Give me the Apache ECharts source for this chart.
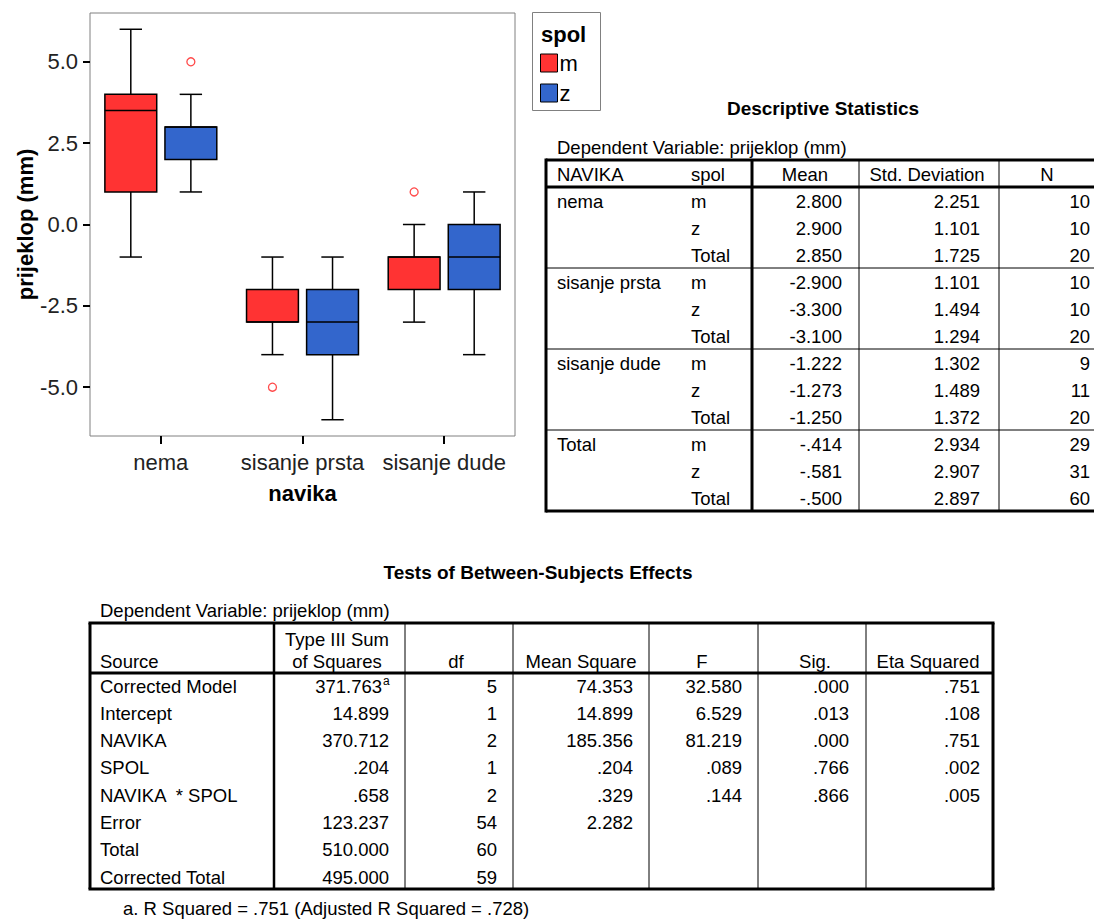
<!DOCTYPE html>
<html><head><meta charset="utf-8">
<script src="https://cdn.jsdelivr.net/npm/echarts@6/dist/echarts.min.js"></script>
<style>html,body{margin:0;padding:0;background:#fff}#chart{width:1094px;height:919px}</style>
</head><body><div id="chart"></div>
<script>
// ---------- boxplot data ----------
const categories = ['nema', 'sisanje prsta', 'sisanje dude'];
const sexNames = ['m', 'z'];
// [low whisker, Q1, median, Q3, high whisker]
const boxM = [[-1, 1, 3.5, 4, 6], [-4, -3, -3, -2, -1], [-3, -2, -1, -1, 0]];
const boxZ = [[1, 2, 3, 3, 4], [-6, -4, -3, -2, -1], [-4, -2, -1, 0, 1]];
// [category index, value]
const outM = [[1, -5], [2, 1]];
const outZ = [[0, 5]];
const yTicks = [-5, -2.5, 0, 2.5, 5];
const xAxisName = 'navika';
const yAxisName = 'prijeklop (mm)';
const legendTitle = 'spol';

// ---------- Descriptive Statistics ----------
const descTitle = 'Descriptive Statistics';
const descSubtitle = 'Dependent Variable: prijeklop (mm)';
const descHeaders = ['NAVIKA', 'spol', 'Mean', 'Std. Deviation', 'N'];
const descGroups = ['nema', 'sisanje prsta', 'sisanje dude', 'Total'];
const descSpol = ['m', 'z', 'Total'];
const descMean = ['2.800', '2.900', '2.850', '-2.900', '-3.300', '-3.100', '-1.222', '-1.273', '-1.250', '-.414', '-.581', '-.500'];
const descStd = ['2.251', '1.101', '1.725', '1.101', '1.494', '1.294', '1.302', '1.489', '1.372', '2.934', '2.907', '2.897'];
const descN = ['10', '10', '20', '10', '10', '20', '9', '11', '20', '29', '31', '60'];

// ---------- Tests of Between-Subjects Effects ----------
const testTitle = 'Tests of Between-Subjects Effects';
const testSubtitle = 'Dependent Variable: prijeklop (mm)';
const testHeaderTop = ['', 'Type III Sum', '', '', '', '', ''];
const testHeaders = ['Source', 'of Squares', 'df', 'Mean Square', 'F', 'Sig.', 'Eta Squared'];
const testSource = ['Corrected Model', 'Intercept', 'NAVIKA', 'SPOL', 'NAVIKA  * SPOL', 'Error', 'Total', 'Corrected Total'];
const testSS = ['371.763', '14.899', '370.712', '.204', '.658', '123.237', '510.000', '495.000'];
const testSSNote = ['a', '', '', '', '', '', '', ''];
const testDf = ['5', '1', '2', '1', '2', '54', '60', '59'];
const testMS = ['74.353', '14.899', '185.356', '.204', '.329', '2.282', '', ''];
const testF = ['32.580', '6.529', '81.219', '.089', '.144', '', '', ''];
const testSig = ['.000', '.013', '.000', '.766', '.866', '', '', ''];
const testEta = ['.751', '.108', '.751', '.002', '.005', '', '', ''];
const testFootnote = 'a. R Squared = .751 (Adjusted R Squared = .728)';

// ---------- styling ----------
const FF = '"Liberation Sans", Arial, sans-serif';
const RED = '#ff3333', BLUE = '#3366cc', OUT = '#ff4a4a';
const TFONT = 'normal 18.5px ' + FF;

const chart = echarts.init(document.getElementById('chart'), null, {renderer: 'svg'});

function boxRenderer(offFrac) {
  return function (params, api) {
    const cat = api.value(0);
    const lo = api.value(1), q1 = api.value(2), med = api.value(3), q3 = api.value(4), hi = api.value(5);
    const band = api.size([1, 0])[0];
    const cx = api.coord([cat, 0])[0] + offFrac * band;
    const y = v => api.coord([cat, v])[1];
    const bw = band * 0.366, cw = band * 0.158;
    const ls = {stroke: '#000', lineWidth: 1.5};
    const color = api.visual('color');
    return {
      type: 'group',
      children: [
        {type: 'line', shape: {x1: cx, y1: y(q3), x2: cx, y2: y(hi)}, style: ls},
        {type: 'line', shape: {x1: cx, y1: y(q1), x2: cx, y2: y(lo)}, style: ls},
        {type: 'line', shape: {x1: cx - cw / 2, y1: y(hi), x2: cx + cw / 2, y2: y(hi)}, style: ls},
        {type: 'line', shape: {x1: cx - cw / 2, y1: y(lo), x2: cx + cw / 2, y2: y(lo)}, style: ls},
        {type: 'rect', shape: {x: cx - bw / 2, y: y(q3), width: bw, height: y(q1) - y(q3)},
          style: {fill: color, stroke: '#000', lineWidth: 1.5}},
        {type: 'line', shape: {x1: cx - bw / 2, y1: y(med), x2: cx + bw / 2, y2: y(med)}, style: ls}
      ]
    };
  };
}
function outRenderer(offFrac) {
  return function (params, api) {
    const cat = api.value(0);
    const band = api.size([1, 0])[0];
    const p = api.coord([cat, api.value(1)]);
    return {type: 'circle', shape: {cx: p[0] + offFrac * band, cy: p[1], r: 4},
      style: {fill: 'none', stroke: OUT, lineWidth: 1.3}};
  };
}

// ---------- graphic helpers ----------
const G = [];
function txt(x, y, s, align, font, extra) {
  G.push(Object.assign({type: 'text', x: x, y: y, silent: true,
    style: {text: s, fill: '#000', font: font || TFONT, textAlign: align || 'left', textVerticalAlign: 'middle'}}, extra || {}));
}
function ln(x1, y1, x2, y2, w, c) {
  G.push({type: 'line', silent: true, shape: {x1: x1, y1: y1, x2: x2, y2: y2},
    style: {stroke: c || '#000', lineWidth: w || 1}});
}

// legend box & title
G.push({type: 'rect', silent: true, shape: {x: 532.5, y: 12.5, width: 68, height: 98},
  style: {fill: 'none', stroke: '#808080', lineWidth: 1}});
txt(541, 34, legendTitle, 'left', 'bold 22px ' + FF);

// Descriptive table
txt(823, 108, descTitle, 'center', 'bold 19px ' + FF);
txt(557, 147, descSubtitle, 'left');
(function () {
  const L = 546, R = 1100, top = 160, head = 187, rowH = 27, grpH = 81;
  const bottom = head + grpH * descGroups.length;
  const hx = [557, 691, 805, 927, 1047];
  const ha = ['left', 'left', 'center', 'center', 'center'];
  descHeaders.forEach((h, i) => txt(hx[i], 174, h, ha[i]));
  descGroups.forEach((g, gi) => {
    descSpol.forEach((s, r) => {
      const k = gi * 3 + r;
      const yy = head + gi * grpH + 14 + r * rowH;
      if (r === 0) txt(557, yy, g, 'left');
      txt(691, yy, s, 'left');
      txt(842, yy, descMean[k], 'right');
      txt(980, yy, descStd[k], 'right');
      txt(1090, yy, descN[k], 'right');
    });
    if (gi > 0) ln(L, head + gi * grpH, R, head + gi * grpH, 1);
  });
  ln(L, top, R, top, 3);
  ln(L, head, R, head, 3);
  ln(L, bottom, R, bottom, 3);
  ln(L, top - 1.5, L, bottom + 1.5, 3);
  ln(752, top, 752, bottom, 3);
  ln(859, top, 859, bottom, 1);
  ln(999, top, 999, bottom, 1);
})();

// Tests table
txt(538, 572, testTitle, 'center', 'bold 19px ' + FF);
txt(100, 610, testSubtitle, 'left');
(function () {
  const L = 90, R = 993, top = 623, head = 673, bottom = 889, rowH = 27.3;
  const cols = [274, 405, 513, 649, 758, 866];
  const hc = [100, 337, 456, 581, 702, 815, 928];
  testHeaderTop.forEach((h, i) => { if (h) txt(hc[i], 639, h, 'center'); });
  testHeaders.forEach((h, i) => txt(hc[i], 661, h, i === 0 ? 'left' : 'center'));
  const vr = [389, 497, 633, 742, 849, 980];
  testSource.forEach((s, i) => {
    const yy = 686 + i * rowH;
    txt(100, yy, s, 'left');
    const vals = [testSS[i], testDf[i], testMS[i], testF[i], testSig[i], testEta[i]];
    vals.forEach((v, j) => {
      if (!v) return;
      if (j === 0 && testSSNote[i]) {
        txt(vr[j] - 7, yy, v, 'right');
        txt(vr[j] - 6, yy - 5, testSSNote[i], 'left', 'normal 12px ' + FF);
      } else {
        txt(vr[j], yy, v, 'right');
      }
    });
  });
  ln(L - 1.5, top, R + 1.5, top, 3);
  ln(L - 1.5, bottom, R + 1.5, bottom, 3);
  ln(L, top, L, bottom, 3);
  ln(R, top, R, bottom, 3);
  ln(L, head, R, head, 3);
  cols.forEach((c, i) => ln(c, top, c, bottom, i === 0 ? 2.5 : 1));
  txt(123, 908, testFootnote, 'left');
})();

const option = {
  backgroundColor: '#fff',
  animation: false,
  grid: {left: 90, top: 13, width: 425, height: 423, show: true, borderColor: '#808080', borderWidth: 1,
    backgroundColor: 'transparent', outerBoundsMode: 'none'},
  legend: {
    data: sexNames.map(n => ({name: n})),
    orient: 'vertical', left: 540, top: 52, padding: 0, itemGap: 8,
    itemWidth: 17, itemHeight: 18, icon: 'rect',
    itemStyle: {borderColor: '#000', borderWidth: 1},
    textStyle: {fontSize: 22, fontFamily: FF, color: '#000', lineHeight: 19, padding: [0, 0, 0, -3]},
    selectedMode: false
  },
  xAxis: {
    type: 'category', data: categories, boundaryGap: true,
    name: xAxisName, nameLocation: 'middle', nameGap: 46,
    nameTextStyle: {fontSize: 22, fontWeight: 'bold', fontFamily: FF, color: '#000'},
    axisLine: {show: false, onZero: false},
    axisTick: {show: true, alignWithLabel: true, length: 8, lineStyle: {color: '#000', width: 2}},
    axisLabel: {fontSize: 22, fontFamily: FF, color: '#222', margin: 15, interval: 0, hideOverlap: false},
    splitLine: {show: false}
  },
  yAxis: {
    type: 'value', min: -6.5, max: 6.5,
    name: yAxisName, nameLocation: 'middle', nameGap: 54, nameRotate: 90,
    nameTextStyle: {fontSize: 22, fontWeight: 'bold', fontFamily: FF, color: '#000'},
    axisLine: {show: false, onZero: false},
    axisTick: {show: true, length: 7, customValues: yTicks, lineStyle: {color: '#000', width: 2}},
    axisLabel: {fontSize: 22, fontFamily: FF, color: '#222', margin: 12, customValues: yTicks,
      formatter: v => v.toFixed(1)},
    splitLine: {show: false}
  },
  series: [
    {name: 'm', type: 'custom', renderItem: boxRenderer(-0.212), itemStyle: {color: RED},
      encode: {x: 0, y: [1, 2, 3, 4, 5]}, data: boxM.map((b, i) => [i].concat(b)), clip: false},
    {name: 'z', type: 'custom', renderItem: boxRenderer(0.212), itemStyle: {color: BLUE},
      encode: {x: 0, y: [1, 2, 3, 4, 5]}, data: boxZ.map((b, i) => [i].concat(b)), clip: false},
    {name: 'm outliers', type: 'custom', renderItem: outRenderer(-0.212), itemStyle: {color: OUT},
      encode: {x: 0, y: 1}, data: outM, clip: false},
    {name: 'z outliers', type: 'custom', renderItem: outRenderer(0.212), itemStyle: {color: OUT},
      encode: {x: 0, y: 1}, data: outZ, clip: false}
  ],
  graphic: G
};
chart.setOption(option);
</script></body></html>
